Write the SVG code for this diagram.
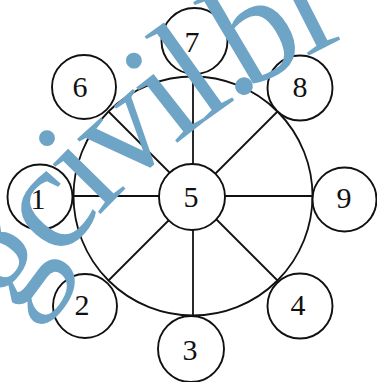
<svg xmlns="http://www.w3.org/2000/svg" xmlns:xlink="http://www.w3.org/1999/xlink" width="377" height="382" viewBox="0 0 377 382">
<style>
.ln{fill:none;stroke:#111;stroke-width:1.8}
.nd{fill:#fff;stroke:#111;stroke-width:1.9}
.lb{font-family:"Liberation Serif","Times New Roman",serif;font-size:30px;fill:#111;text-anchor:middle}
.wm{font-family:"Liberation Serif","Times New Roman",serif;font-size:150px;letter-spacing:-6px;fill:#6ea4c6}
</style>
<defs>
<path id="wmpath" d="M 17.6 317.4 A 813 813 0 0 1 422.7 5.7"/>
</defs>
<g id="rim"><circle class="ln" cx="193" cy="196" r="119.5"/></g>
<g id="connectors" class="ln">
<line x1="193" y1="196" x2="193" y2="76.5"/>
<line x1="193" y1="196" x2="193" y2="315.5"/>
<line x1="193" y1="196" x2="73.5" y2="196"/>
<line x1="193" y1="196" x2="312.5" y2="196"/>
<line x1="193" y1="196" x2="108.5" y2="111.5"/>
<line x1="193" y1="196" x2="277.5" y2="111.5"/>
<line x1="193" y1="196" x2="108.5" y2="280.5"/>
<line x1="193" y1="196" x2="277.5" y2="280.5"/>
</g>
<g id="n5"><circle class="nd" cx="192" cy="197" r="33"/><text class="lb" x="191" y="207">5</text></g>
<g id="n1"><circle class="nd" cx="40" cy="197" r="32.5"/><text class="lb" x="38" y="209">1</text></g>
<g id="n2"><circle class="nd" cx="85" cy="306" r="32"/><text class="lb" x="82" y="315">2</text></g>
<g id="n3"><circle class="nd" cx="191" cy="349" r="33"/><text class="lb" x="190" y="360">3</text></g>
<g id="n4"><circle class="nd" cx="300" cy="306" r="32.5"/><text class="lb" x="298" y="315">4</text></g>
<g id="n6"><circle class="nd" cx="84" cy="87" r="32"/><text class="lb" x="80" y="97">6</text></g>
<g id="n7"><circle class="nd" cx="194.5" cy="41" r="33"/><text class="lb" x="192" y="52">7</text></g>
<g id="n8"><circle class="nd" cx="300" cy="88" r="32.5"/><text class="lb" x="300" y="97">8</text></g>
<g id="n9"><circle class="nd" cx="344.5" cy="199.5" r="32"/><text class="lb" x="344" y="208">9</text></g>
<g id="watermark"><text class="wm"><textPath xlink:href="#wmpath" href="#wmpath">gcivil.<tspan dx="-14">bl</tspan></textPath></text></g>
</svg>
